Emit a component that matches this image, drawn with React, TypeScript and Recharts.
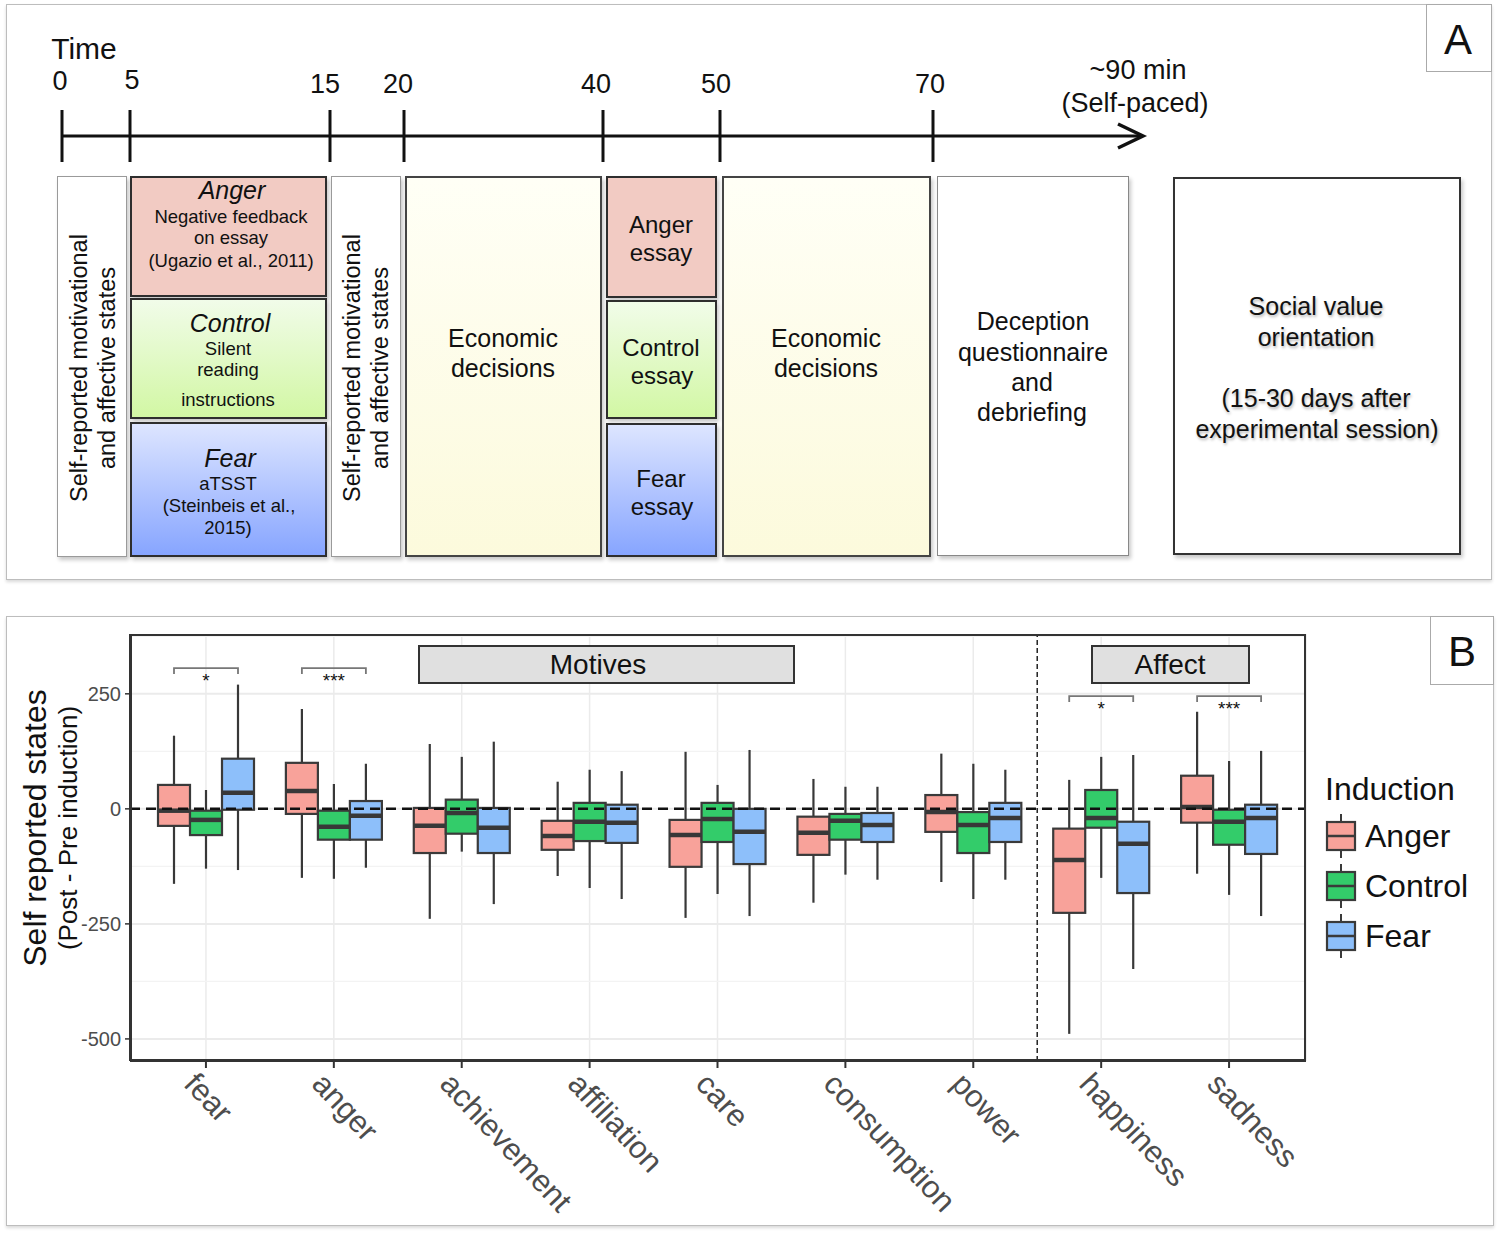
import React from "react"
import {
  ComposedChart,
  Bar,
  XAxis,
  YAxis,
  CartesianGrid,
  ReferenceLine,
} from "recharts"

const FONT = '"Liberation Sans", Arial, Helvetica, sans-serif'

// ---- panel B data ----
const CATEGORIES = [
  "fear",
  "anger",
  "achievement",
  "affiliation",
  "care",
  "consumption",
  "power",
  "happiness",
  "sadness",
]
const GROUPS = ["Anger", "Control", "Fear"]
const FILLS = ["#F8A29A", "#33CC6A", "#8DBFFA"]

// [lower whisker, q1, median, q3, upper whisker]
const ANGER_STATS = [
  [-163, -37, -4, 52, 159],
  [-150, -11, 39, 100, 217],
  [-239, -96, -37, 2, 141],
  [-146, -89, -59, -26, 59],
  [-237, -126, -57, -24, 124],
  [-204, -100, -52, -17, 65],
  [-159, -50, -7, 30, 120],
  [-489, -226, -111, -43, 63],
  [-141, -30, 4, 72, 211],
]
const CONTROL_STATS = [
  [-130, -57, -24, -4, 41],
  [-152, -67, -39, -4, 54],
  [-93, -54, -9, 20, 113],
  [-172, -70, -28, 13, 85],
  [-185, -72, -22, 13, 52],
  [-143, -67, -26, -11, 48],
  [-196, -96, -35, -7, 98],
  [-150, -41, -20, 41, 113],
  [-187, -78, -28, -2, 104],
]
const FEAR_STATS = [
  [-133, -2, 35, 109, 270],
  [-128, -67, -15, 17, 98],
  [-207, -96, -41, 2, 146],
  [-196, -74, -30, 9, 82],
  [-233, -120, -50, 0, 128],
  [-154, -72, -35, -9, 48],
  [-154, -72, -20, 13, 85],
  [-348, -183, -76, -28, 117],
  [-233, -98, -20, 9, 126],
]
const SIG_LABELS = ["*", "***", "", "", "", "", "", "*", "***"]
const SIG_LEVELS = [306, 306, 0, 0, 0, 0, 0, 245, 245]

const Y_TICKS = [-500, -250, 0, 250]
const Y_MINOR = [-375, -125, 125, 375]

const STATS: Record<string, number[][]> = {
  Anger: ANGER_STATS,
  Control: CONTROL_STATS,
  Fear: FEAR_STATS,
}

const data = CATEGORIES.map((name, i) => ({
  name,
  Anger: [ANGER_STATS[i][0], ANGER_STATS[i][4]],
  Control: [CONTROL_STATS[i][0], CONTROL_STATS[i][4]],
  Fear: [FEAR_STATS[i][0], FEAR_STATS[i][4]],
  idx: i,
  sig: SIG_LABELS[i],
  sigLevel: SIG_LEVELS[i],
}))

// ---- panel A timeline ----
const TIME_LABELS = ["0", "5", "15", "20", "40", "50", "70"]
const TIME_TICK_X = [62, 130, 330, 404, 603, 720, 933]
const TIME_LABEL_POS = [
  [60, 81],
  [132, 80],
  [325, 84],
  [398, 84],
  [596, 84],
  [716, 84],
  [930, 84],
]

function makeBoxShape(group: string, fill: string, withSig: boolean) {
  return (props: any) => {
    const { x, y, width, height, payload } = props
    if (x == null || !payload) return null
    const [lo, q1, med, q3, hi] = STATS[group][payload.idx]
    const top = Math.min(y, y + height)
    const h = Math.abs(height)
    const toPx = (v: number) => top + ((hi - v) / (hi - lo)) * h
    const cx = x + width / 2
    let bracket = null
    if (withSig && payload.sig) {
      const by = toPx(payload.sigLevel)
      const x1 = cx - 2 * width
      const x2 = cx
      bracket = (
        <g>
          <path
            d={`M${x1},${by + 6} L${x1},${by} L${x2},${by} L${x2},${by + 6}`}
            fill="none"
            stroke="#777"
            strokeWidth={1.8}
          />
          <text
            x={(x1 + x2) / 2}
            y={by + 19}
            textAnchor="middle"
            fontSize={19}
            fontFamily={FONT}
            fill="#111"
          >
            {payload.sig}
          </text>
        </g>
      )
    }
    return (
      <g>
        <line x1={cx} x2={cx} y1={toPx(hi)} y2={toPx(lo)} stroke="#383838" strokeWidth={2.2} />
        <rect
          x={x}
          y={toPx(q3)}
          width={width}
          height={toPx(q1) - toPx(q3)}
          fill={fill}
          stroke="#3a3a3a"
          strokeWidth={2.2}
        />
        <line
          x1={x}
          x2={x + width}
          y1={toPx(med)}
          y2={toPx(med)}
          stroke="#383838"
          strokeWidth={4.5}
        />
        {bracket}
      </g>
    )
  }
}

const XTick = (props: any) => {
  const { x, y, payload } = props
  const ax = x - 7
  const ay = y
  return (
    <text
      x={ax}
      y={ay}
      dy="0.72em"
      transform={`rotate(47, ${ax}, ${ay})`}
      textAnchor="start"
      fontSize={31}
      fontFamily={FONT}
      fill="#4d4d4d"
    >
      {payload.value}
    </text>
  )
}

function T({
  cx,
  cy,
  size,
  text,
  italic,
  rotate,
  shadow,
}: {
  cx: number
  cy: number
  size: number
  text: string
  italic?: boolean
  rotate?: boolean
  shadow?: boolean
}) {
  return (
    <div
      style={{
        position: "absolute",
        left: cx,
        top: cy,
        transform: `translate(-50%, -50%)${rotate ? " rotate(-90deg)" : ""}`,
        fontSize: size,
        fontStyle: italic ? "italic" : "normal",
        whiteSpace: "nowrap",
        lineHeight: 1,
        color: "#111",
        textShadow: shadow ? "1px 2px 3px rgba(0,0,0,0.3)" : "none",
      }}
    >
      {text}
    </div>
  )
}

function Box({
  x,
  y,
  w,
  h,
  bg,
  border,
}: {
  x: number
  y: number
  w: number
  h: number
  bg: string
  border: string
}) {
  return (
    <div
      style={{
        position: "absolute",
        left: x,
        top: y,
        width: w,
        height: h,
        background: bg,
        border,
        boxSizing: "border-box",
        boxShadow: "2px 3px 4px rgba(0,0,0,0.22)",
      }}
    />
  )
}

const PINK = "#F2CBC3"
const GREEN = "linear-gradient(#F1FCE9, #D2F7A4)"
const BLUE = "linear-gradient(#DDE5FF, #87A5FF)"
const YELLOW = "linear-gradient(#FFFFF6, #FCFADC)"
const DARK = "2px solid #2e2e2e"
const GRAY = "1.5px solid #9a9a9a"

function PanelA() {
  return (
    <>
      <div
        style={{
          position: "absolute",
          left: 6,
          top: 4,
          width: 1486,
          height: 576,
          border: "1.5px solid #bdbdbd",
          boxSizing: "border-box",
          boxShadow: "0 2px 3px rgba(0,0,0,0.15)",
        }}
      />
      <div
        style={{
          position: "absolute",
          left: 1426,
          top: 4,
          width: 66,
          height: 68,
          border: "1.5px solid #aaa",
          boxSizing: "border-box",
        }}
      />
      <T cx={1458} cy={40} size={42} text="A" />
      <T cx={84} cy={49} size={30} text="Time" />
      {TIME_LABELS.map((t, i) => (
        <T key={t} cx={TIME_LABEL_POS[i][0]} cy={TIME_LABEL_POS[i][1]} size={27} text={t} />
      ))}
      <T cx={1138} cy={70} size={27} text="~90 min" />
      <T cx={1135} cy={103} size={27} text="(Self-paced)" />
      <svg
        width={1499}
        height={200}
        style={{ position: "absolute", left: 0, top: 0 }}
      >
        <line x1={62} x2={1142} y1={136} y2={136} stroke="#111" strokeWidth={3} />
        {TIME_TICK_X.map((tx) => (
          <line key={tx} x1={tx} x2={tx} y1={110} y2={162} stroke="#111" strokeWidth={3} />
        ))}
        <polyline
          points="1118,124 1143,136 1118,148"
          fill="none"
          stroke="#111"
          strokeWidth={3.5}
        />
      </svg>

      <Box x={57} y={176} w={70} h={381} bg="#fff" border={GRAY} />
      <T cx={80} cy={368} size={23.5} text="Self-reported motivational" rotate />
      <T cx={108} cy={368} size={23.5} text="and affective states" rotate />

      <Box x={130} y={176} w={197} h={121} bg={PINK} border={DARK} />
      <T cx={232} cy={190} size={25} text="Anger" italic />
      <T cx={231} cy={217} size={18.5} text="Negative feedback" />
      <T cx={231} cy={238} size={18.5} text="on essay" />
      <T cx={231} cy={261} size={18.5} text="(Ugazio et al., 2011)" />

      <Box x={130} y={298} w={197} h={121} bg={GREEN} border={DARK} />
      <T cx={230} cy={323} size={25} text="Control" italic />
      <T cx={228} cy={349} size={18.5} text="Silent" />
      <T cx={228} cy={370} size={18.5} text="reading" />
      <T cx={228} cy={400} size={18.5} text="instructions" />

      <Box x={130} y={422} w={197} h={135} bg={BLUE} border={DARK} />
      <T cx={230} cy={458} size={25} text="Fear" italic />
      <T cx={228} cy={484} size={18.5} text="aTSST" />
      <T cx={229} cy={506} size={18.5} text="(Steinbeis et al.," />
      <T cx={228} cy={528} size={18.5} text="2015)" />

      <Box x={331} y={176} w={70} h={381} bg="#fff" border={GRAY} />
      <T cx={353} cy={368} size={23.5} text="Self-reported motivational" rotate />
      <T cx={381} cy={368} size={23.5} text="and affective states" rotate />

      <Box x={405} y={176} w={197} h={381} bg={YELLOW} border="2px solid #444" />
      <T cx={503} cy={338} size={25} text="Economic" />
      <T cx={503} cy={368} size={25} text="decisions" />

      <Box x={606} y={176} w={111} h={122} bg={PINK} border={DARK} />
      <T cx={661} cy={225} size={24} text="Anger" />
      <T cx={661} cy={253} size={24} text="essay" />
      <Box x={606} y={300} w={111} h={119} bg={GREEN} border={DARK} />
      <T cx={661} cy={348} size={24} text="Control" />
      <T cx={662} cy={376} size={24} text="essay" />
      <Box x={606} y={423} w={111} h={134} bg={BLUE} border={DARK} />
      <T cx={661} cy={479} size={24} text="Fear" />
      <T cx={662} cy={507} size={24} text="essay" />

      <Box x={722} y={176} w={209} h={381} bg={YELLOW} border="2px solid #444" />
      <T cx={826} cy={338} size={25} text="Economic" />
      <T cx={826} cy={368} size={25} text="decisions" />

      <Box x={937} y={176} w={192} h={380} bg="#fff" border="1.5px solid #888" />
      <T cx={1033} cy={321} size={25} text="Deception" />
      <T cx={1033} cy={352} size={25} text="questionnaire" />
      <T cx={1032} cy={382} size={25} text="and" />
      <T cx={1032} cy={412} size={25} text="debriefing" />

      <Box x={1173} y={177} w={288} h={378} bg="#fff" border="2px solid #333" />
      <T cx={1316} cy={306} size={25} text="Social value" shadow />
      <T cx={1316} cy={337} size={25} text="orientation" shadow />
      <T cx={1316} cy={398} size={25} text="(15-30 days after" shadow />
      <T cx={1317} cy={429} size={25} text="experimental session)" shadow />
    </>
  )
}

function LegendGlyph({ fill }: { fill: string }) {
  return (
    <svg width={32} height={44} style={{ display: "block" }}>
      <line x1={16} x2={16} y1={0} y2={44} stroke="#3a3a3a" strokeWidth={2} />
      <rect x={2} y={8} width={28} height={28} fill={fill} stroke="#3a3a3a" strokeWidth={2.2} />
      <line x1={2} x2={30} y1={22} y2={22} stroke="#3a3a3a" strokeWidth={2.5} />
    </svg>
  )
}

function PanelB() {
  return (
    <>
      <div
        style={{
          position: "absolute",
          left: 6,
          top: 616,
          width: 1488,
          height: 610,
          border: "1.5px solid #bdbdbd",
          boxSizing: "border-box",
          boxShadow: "0 2px 3px rgba(0,0,0,0.15)",
        }}
      />
      <div
        style={{
          position: "absolute",
          left: 1430,
          top: 616,
          width: 64,
          height: 69,
          border: "1.5px solid #aaa",
          boxSizing: "border-box",
        }}
      />
      <T cx={1462} cy={652} size={42} text="B" />

      <div style={{ position: "absolute", left: 0, top: 616 }}>
        <ComposedChart
          width={1499}
          height={618}
          data={data}
          margin={{ top: 18, right: 193, bottom: 23, left: 70 }}
          barGap={0}
          barSize={32}
        >
          <CartesianGrid
            horizontal={false}
            vertical={true}
            stroke="#ebebeb"
            strokeWidth={1.5}
          />
          <CartesianGrid
            vertical={false}
            horizontalValues={Y_MINOR}
            stroke="#f3f3f3"
            strokeWidth={1.2}
          />
          <CartesianGrid
            vertical={false}
            horizontalValues={Y_TICKS}
            stroke="#ebebeb"
            strokeWidth={2}
          />
          <XAxis
            dataKey="name"
            type="category"
            padding={{ left: 12, right: 13 }}
            height={150}
            interval={0}
            tick={<XTick />}
            tickSize={7}
            tickLine={{ stroke: "#333", strokeWidth: 2 }}
            axisLine={{ stroke: "#333", strokeWidth: 2 }}
          />
          <YAxis
            type="number"
            domain={[-548, 380]}
            ticks={Y_TICKS}
            allowDataOverflow
            width={60}
            tickSize={5}
            tickMargin={4}
            tick={{ fill: "#4d4d4d", fontSize: 20, fontFamily: FONT }}
            tickLine={{ stroke: "#333", strokeWidth: 1.5 }}
            axisLine={{ stroke: "#333", strokeWidth: 2 }}
          />
          {GROUPS.map((g, gi) => (
            <Bar
              key={g}
              dataKey={g}
              isAnimationActive={false}
              shape={makeBoxShape(g, FILLS[gi], g === "Fear")}
            />
          ))}
          <ReferenceLine
            x="happiness"
            position="start"
            stroke="#222"
            strokeWidth={1.5}
            strokeDasharray="5 3"
          />
          <ReferenceLine
            y={0}
            stroke="#111"
            strokeWidth={2.5}
            strokeDasharray="10 6"
          />
        </ComposedChart>
      </div>

      <div
        style={{
          position: "absolute",
          left: 130,
          top: 634,
          width: 1176,
          height: 427,
          border: "2px solid #333",
          boxSizing: "border-box",
          pointerEvents: "none",
        }}
      />

      <div
        style={{
          position: "absolute",
          left: 418,
          top: 645,
          width: 377,
          height: 39,
          background: "#e0e0e0",
          border: "2px solid #333",
          boxSizing: "border-box",
        }}
      />
      <T cx={598} cy={665} size={28} text="Motives" />
      <div
        style={{
          position: "absolute",
          left: 1091,
          top: 645,
          width: 159,
          height: 39,
          background: "#e0e0e0",
          border: "2px solid #333",
          boxSizing: "border-box",
        }}
      />
      <T cx={1170} cy={665} size={28} text="Affect" />

      <T cx={35} cy={828} size={32} text="Self reported states" rotate />
      <T cx={68} cy={828} size={26} text="(Post - Pre induction)" rotate />

      <div style={{ position: "absolute", left: 1325, top: 773, fontSize: 32, lineHeight: 1 }}>
        Induction
      </div>
      {GROUPS.map((g, gi) => (
        <div
          key={g}
          style={{
            position: "absolute",
            left: 1325,
            top: 814 + gi * 50,
            display: "flex",
            alignItems: "center",
            gap: 8,
            fontSize: 32,
            lineHeight: 1,
          }}
        >
          <LegendGlyph fill={FILLS[gi]} />
          <span>{g}</span>
        </div>
      ))}
    </>
  )
}

export default function App() {
  return (
    <div
      style={{
        position: "absolute",
        left: 0,
        top: 0,
        width: 1499,
        height: 1234,
        background: "#fff",
        fontFamily: FONT,
        color: "#111",
        overflow: "hidden",
      }}
    >
      <PanelA />
      <PanelB />
    </div>
  )
}
